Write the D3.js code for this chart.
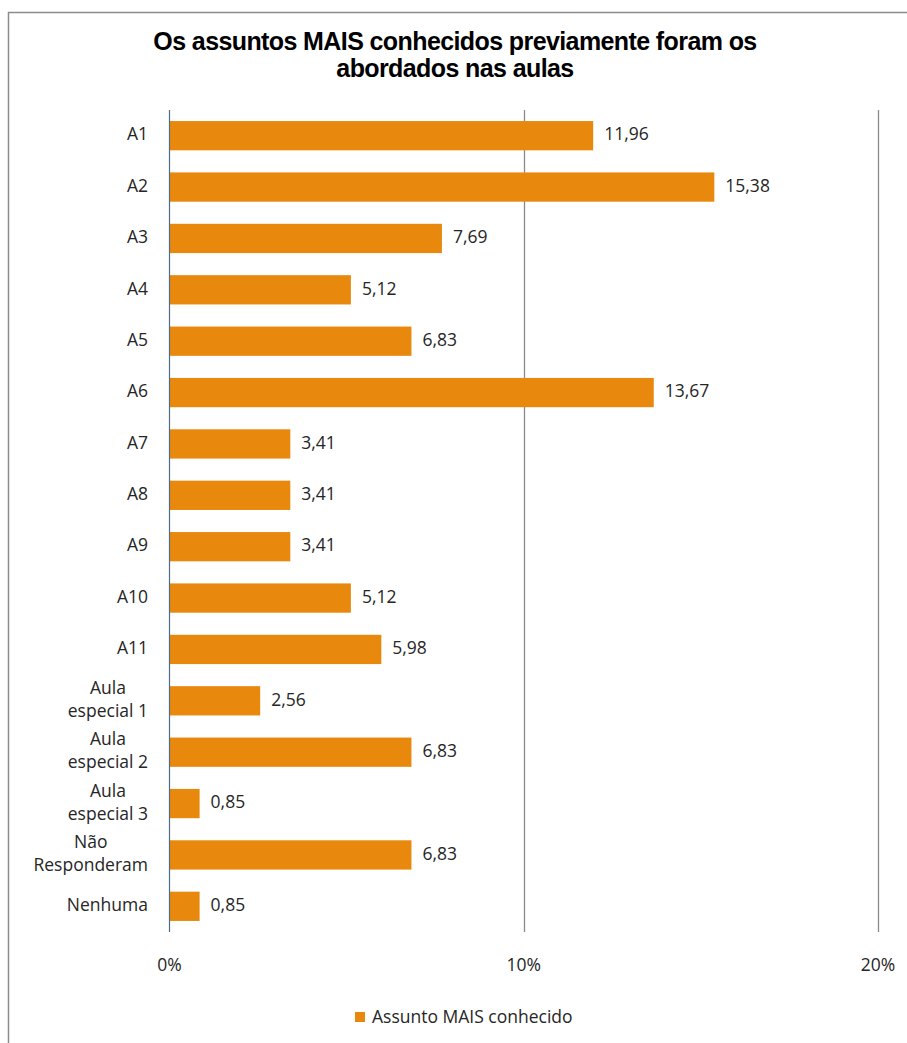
<!DOCTYPE html>
<html>
<head>
<meta charset="utf-8">
<script src="https://cdn.jsdelivr.net/npm/d3@7"></script>
<style>
  html, body { margin: 0; padding: 0; background: #fff; }
  svg { display: block; }
</style>
</head>
<body>
<svg id="chart" width="907" height="1043"></svg>
<script>
// Categories (use \n for wrapped axis labels)
const categories = [
  "A1", "A2", "A3", "A4", "A5", "A6", "A7", "A8", "A9", "A10", "A11",
  "Aula\nespecial 1", "Aula\nespecial 2", "Aula\nespecial 3",
  "Não\nResponderam", "Nenhuma"
];
// Percent of respondents per subject
const values = [11.96, 15.38, 7.69, 5.12, 6.83, 13.67, 3.41, 3.41, 3.41, 5.12, 5.98, 2.56, 6.83, 0.85, 6.83, 0.85];
const xTicks = [0, 10, 20];
const titleLines = ["Os assuntos MAIS conhecidos previamente foram os", "abordados nas aulas"];
const seriesName = "Assunto MAIS conhecido";

const W = 907, H = 1043;
const barColor = "#E8890E";
const labelFont = "'Open Sans', 'Noto Sans', sans-serif";

const svg = d3.select("#chart");

// Outer chart frame
svg.append("rect")
  .attr("x", 8.5).attr("y", 12.5)
  .attr("width", W + 20).attr("height", H + 20)
  .attr("fill", "#fff")
  .attr("stroke", "#8c8c8c").attr("stroke-width", 1.5);

// Title
svg.append("g").selectAll("text")
  .data(titleLines)
  .join("text")
  .attr("x", 455)
  .attr("y", (d, i) => 43 + i * 27)
  .attr("text-anchor", "middle")
  .attr("dominant-baseline", "middle")
  .attr("font-family", "'Liberation Sans', Arial, sans-serif")
  .attr("font-weight", "bold")
  .attr("font-size", 25)
  .attr("letter-spacing", "-0.6")
  .attr("fill", "#000")
  .text(d => d);

// Scales
const x = d3.scaleLinear().domain([0, 20]).range([169.5, 878]);
const y = d3.scaleBand()
  .domain(categories)
  .range([110, 932])
  .paddingInner(0.43)
  .paddingOuter(0.215);

// Vertical gridlines
svg.append("g").selectAll("line")
  .data(xTicks.filter(d => d > 0))
  .join("line")
  .attr("x1", d => Math.round(x(d)) + 0.5)
  .attr("x2", d => Math.round(x(d)) + 0.5)
  .attr("y1", 110).attr("y2", 932)
  .attr("stroke", "#8a8a8a").attr("stroke-width", 1.3);

// Bars
svg.append("g").selectAll("rect")
  .data(values)
  .join("rect")
  .attr("x", x(0))
  .attr("y", (d, i) => y(categories[i]))
  .attr("width", d => x(d) - x(0))
  .attr("height", y.bandwidth())
  .attr("fill", barColor);

// Category axis line
svg.append("line")
  .attr("x1", Math.round(x(0)) - 0.5).attr("x2", Math.round(x(0)) - 0.5)
  .attr("y1", 110).attr("y2", 932)
  .attr("stroke", "#4f6b86").attr("stroke-width", 1.2);

// Value labels
const fmt = v => d3.format(".2f")(v).replace(".", ",");
svg.append("g").selectAll("text")
  .data(values)
  .join("text")
  .attr("x", d => x(d) + 11)
  .attr("y", (d, i) => y(categories[i]) + y.bandwidth() / 2)
  .attr("dominant-baseline", "middle")
  .attr("font-family", labelFont)
  .attr("font-size", 17.5)
  .attr("fill", "#262626")
  .text(d => fmt(d));

// Category labels, wrapped lines centred on one another
const catG = svg.append("g");
categories.forEach(c => {
  const lines = c.split("\n");
  const t = catG.append("text")
    .attr("font-family", labelFont)
    .attr("font-size", 17.5)
    .attr("fill", "#262626")
    .attr("text-anchor", "middle");
  const lh = 23;
  const cy = y(c) + y.bandwidth() / 2;
  const spans = lines.map((ln, i) => t.append("tspan")
    .attr("dominant-baseline", "middle")
    .attr("y", cy + (i - (lines.length - 1) / 2) * lh)
    .text(ln));
  const maxW = d3.max(spans, s => s.node().getComputedTextLength());
  spans.forEach(s => s.attr("x", 148 - maxW / 2));
});

// X axis tick labels
svg.append("g").selectAll("text")
  .data(xTicks)
  .join("text")
  .attr("x", d => x(d))
  .attr("y", 966)
  .attr("text-anchor", "middle")
  .attr("dominant-baseline", "middle")
  .attr("font-family", labelFont)
  .attr("font-size", 17.5)
  .attr("fill", "#262626")
  .text(d => d + "%");

// Legend
const lg = svg.append("g");
lg.append("rect")
  .attr("x", 355).attr("y", 1012)
  .attr("width", 10).attr("height", 10)
  .attr("fill", barColor);
lg.append("text")
  .attr("x", 372).attr("y", 1018)
  .attr("dominant-baseline", "middle")
  .attr("font-family", labelFont)
  .attr("font-size", 17.5)
  .attr("fill", "#262626")
  .text(seriesName);
</script>
</body>
</html>
